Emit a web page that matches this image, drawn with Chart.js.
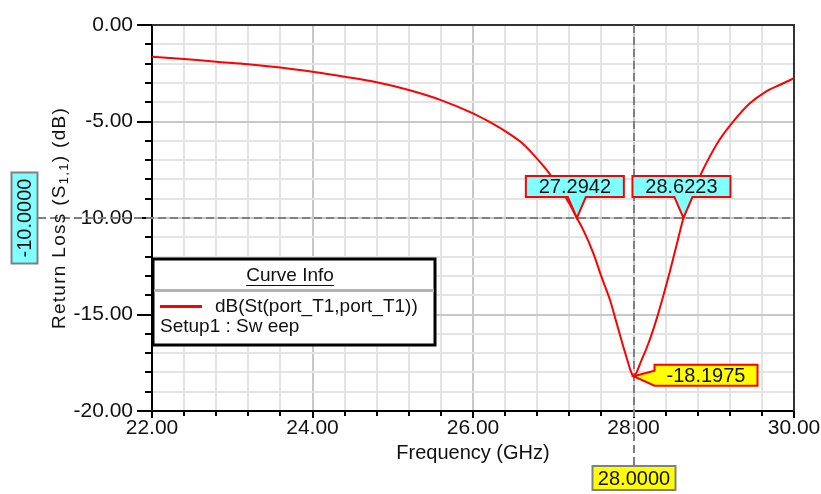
<!DOCTYPE html>
<html>
<head>
<meta charset="utf-8">
<script src="https://cdn.jsdelivr.net/npm/chart.js@4.4.1/dist/chart.umd.min.js"></script>
<style>
  html, body { margin: 0; padding: 0; background: #ffffff; }
  #wrap { width: 821px; height: 494px; }
</style>
</head>
<body>
<div id="wrap"><canvas id="plot" width="821" height="494"></canvas></div>
<script>
// Return loss sweep of the port (frequency in GHz, level in dB)
const freqGHz = [
  22.0, 22.4, 22.8, 23.2, 23.6, 24.0, 24.4, 24.8, 25.2, 25.6,
  26.0, 26.2, 26.4, 26.6, 26.75, 26.9, 27.0, 27.1, 27.2, 27.2942,
  27.375, 27.5, 27.6, 27.707, 27.791, 27.873, 27.935, 27.965, 28.0,
  28.1, 28.19, 28.29, 28.37, 28.455, 28.54, 28.6223, 28.7, 28.845,
  28.95, 29.07, 29.26, 29.45, 29.65, 29.82, 30.0
];
const returnLossDb = [
  -1.65, -1.76, -1.90, -2.03, -2.20, -2.42, -2.68, -2.97, -3.37, -3.89,
  -4.58, -5.01, -5.50, -6.08, -6.70, -7.42, -7.97, -8.57, -9.25, -10.0,
  -10.63, -11.83, -13.04, -14.25, -15.46, -16.67, -17.53, -17.92, -18.1975,
  -17.36, -16.45, -15.20, -14.05, -12.75, -11.35, -10.0, -9.05, -7.68,
  -6.82, -5.96, -4.92, -4.06, -3.45, -3.11, -2.76
];

// Axis ranges and tick spacing
const xRange = [22, 30];
const yRange = [-20, 0];
const xMinorStep = 0.4, xMajorStep = 2;
const yMinorStep = 1, yMajorStep = 5;

// Marker readouts
const refLevelDb = -10.0;
const crossFreqs = [27.2942, 28.6223];
const dipFreq = 28.0;
const dipLevelDb = -18.1975;

// Text
const xTitle = 'Frequency (GHz)';
const yTitleParts = ['Return Loss (S', '1,1', ') (dB)'];
const legendTitle = 'Curve Info';
const traceName = 'dB(St(port_T1,port_T1))';
const sweepName = 'Setup1 : Sw eep';

const FONT = "'Liberation Sans', Arial, sans-serif";
const INK = '#111111';
const CYAN = '#80ffff';
const YELLOW = '#ffff00';
const CLEAR = 'rgba(0,0,0,0)';

function isMajor(v, step) {
  const q = v / step;
  return Math.abs(q - Math.round(q)) < 1e-6;
}
function stepTicks(lo, hi, step) {
  const out = [];
  const n = Math.round((hi - lo) / step);
  for (let i = 0; i <= n; i++) out.push({ value: +(lo + i * step).toFixed(6) });
  return out;
}

function textBox(ctx, text, cx, cy, w, h, fill, stroke, rotate) {
  ctx.save();
  ctx.translate(cx, cy);
  if (rotate) ctx.rotate(-Math.PI / 2);
  ctx.fillStyle = fill;
  ctx.fillRect(-w / 2, -h / 2, w, h);
  ctx.lineWidth = 2;
  ctx.strokeStyle = stroke;
  ctx.strokeRect(-w / 2, -h / 2, w, h);
  ctx.fillStyle = INK;
  ctx.font = `20px ${FONT}`;
  ctx.textAlign = 'center';
  ctx.textBaseline = 'middle';
  ctx.fillText(text, 0, 1);
  ctx.restore();
}

// Flag above a point with a pointer down to it
function flagAbove(ctx, text, px, py) {
  const w = 98, h = 21, bx = px - 2, bottom = py - 21, top = bottom - h;
  const x0 = bx - w / 2, x1 = bx + w / 2;
  ctx.save();
  ctx.beginPath();
  ctx.moveTo(x0, top);
  ctx.lineTo(x1, top);
  ctx.lineTo(x1, bottom);
  ctx.lineTo(px + 9, bottom);
  ctx.lineTo(px, py);
  ctx.lineTo(px - 9, bottom);
  ctx.lineTo(x0, bottom);
  ctx.closePath();
  ctx.fillStyle = CYAN;
  ctx.fill();
  ctx.lineWidth = 2;
  ctx.strokeStyle = '#ff0000';
  ctx.lineJoin = 'miter';
  ctx.stroke();
  ctx.fillStyle = INK;
  ctx.font = `20px ${FONT}`;
  ctx.textAlign = 'center';
  ctx.textBaseline = 'middle';
  ctx.fillText(text, bx, (top + bottom) / 2 + 1);
  ctx.restore();
}

// Flag to the right of a point with a pointer back to it
function flagRight(ctx, text, px, py) {
  const w = 103, h = 21, x0 = px + 21, x1 = x0 + w;
  const top = py - 11.5, bottom = top + h;
  ctx.save();
  ctx.beginPath();
  ctx.moveTo(x0, top);
  ctx.lineTo(x1, top);
  ctx.lineTo(x1, bottom);
  ctx.lineTo(x0, bottom);
  ctx.lineTo(px, py);
  ctx.lineTo(x0, top + 6);
  ctx.closePath();
  ctx.fillStyle = YELLOW;
  ctx.fill();
  ctx.lineWidth = 2;
  ctx.strokeStyle = '#ff0000';
  ctx.stroke();
  ctx.fillStyle = INK;
  ctx.font = `20px ${FONT}`;
  ctx.textAlign = 'center';
  ctx.textBaseline = 'middle';
  ctx.fillText(text, (x0 + x1) / 2, (top + bottom) / 2 + 1);
  ctx.restore();
}

const plotDecor = {
  id: 'plotDecor',
  beforeDatasetsDraw(chart) {
    const { ctx, chartArea: a, scales: { x, y } } = chart;
    ctx.save();
    // frame on top and right
    ctx.strokeStyle = '#333333';
    ctx.lineWidth = 2;
    ctx.beginPath();
    ctx.moveTo(a.left, a.top);
    ctx.lineTo(a.right, a.top);
    ctx.lineTo(a.right, a.bottom);
    ctx.stroke();
    // tick marks outside the axes
    ctx.strokeStyle = '#000000';
    ctx.lineWidth = 2;
    ctx.beginPath();
    y.ticks.forEach(t => {
      const py = Math.round(y.getPixelForValue(t.value));
      const len = isMajor(t.value, yMajorStep) ? 15 : 7;
      ctx.moveTo(a.left - len, py);
      ctx.lineTo(a.left, py);
    });
    x.ticks.forEach(t => {
      const px = Math.round(x.getPixelForValue(t.value));
      const len = isMajor(t.value, xMajorStep) ? 7 : 5;
      ctx.moveTo(px, a.bottom);
      ctx.lineTo(px, a.bottom + len);
    });
    ctx.stroke();

    // dashed cursor lines
    const ry = Math.round(y.getPixelForValue(refLevelDb));
    const cx = Math.round(x.getPixelForValue(dipFreq));
    ctx.strokeStyle = '#808080';
    ctx.lineWidth = 2;
    ctx.setLineDash([8, 4]);
    ctx.beginPath();
    ctx.moveTo(38, ry);
    ctx.lineTo(a.right, ry);
    ctx.moveTo(cx, a.top);
    ctx.lineTo(cx, 466);
    ctx.stroke();
    ctx.setLineDash([]);

    // y axis title with subscript
    const big = `19px ${FONT}`, small = `13px ${FONT}`;
    ctx.letterSpacing = '1.3px';
    ctx.font = big; const w0 = ctx.measureText(yTitleParts[0]).width;
    ctx.font = small; const w1 = ctx.measureText(yTitleParts[1]).width;
    ctx.font = big; const w2 = ctx.measureText(yTitleParts[2]).width;
    const total = w0 + w1 + w2;
    ctx.translate(59, 218);
    ctx.rotate(-Math.PI / 2);
    ctx.fillStyle = INK;
    ctx.textBaseline = 'alphabetic';
    ctx.textAlign = 'left';
    let sx = -total / 2;
    ctx.font = big; ctx.fillText(yTitleParts[0], sx, 6); sx += w0;
    ctx.font = small; ctx.fillText(yTitleParts[1], sx, 9); sx += w1;
    ctx.font = big; ctx.fillText(yTitleParts[2], sx, 6);
    ctx.restore();

    // cursor readouts on the axes
    textBox(ctx, refLevelDb.toFixed(4), 24.5, ry, 91, 26, CYAN, '#808080', true);
    textBox(ctx, dipFreq.toFixed(4), cx, 478, 83, 24, YELLOW, '#808080', false);
  },
  afterDatasetsDraw(chart) {
    const { ctx, scales: { x, y } } = chart;
    const ry = y.getPixelForValue(refLevelDb);
    crossFreqs.forEach(f => flagAbove(ctx, f.toFixed(4), x.getPixelForValue(f), ry));
    flagRight(ctx, dipLevelDb.toFixed(4), x.getPixelForValue(dipFreq), y.getPixelForValue(dipLevelDb));

    // curve info box
    const L = 153, T = 259, R = 435, B = 345;
    ctx.save();
    ctx.fillStyle = '#ffffff';
    ctx.fillRect(L, T, R - L, B - T);
    ctx.strokeStyle = '#000000';
    ctx.lineWidth = 3;
    ctx.strokeRect(L, T, R - L, B - T);
    ctx.fillStyle = INK;
    ctx.font = `19px ${FONT}`;
    ctx.textBaseline = 'middle';
    ctx.textAlign = 'center';
    const tcx = 290;
    ctx.fillText(legendTitle, tcx, 276);
    const tw = ctx.measureText(legendTitle).width;
    ctx.lineWidth = 1;
    ctx.strokeStyle = INK;
    ctx.beginPath();
    ctx.moveTo(tcx - tw / 2, 285.5);
    ctx.lineTo(tcx + tw / 2, 285.5);
    ctx.stroke();
    ctx.strokeStyle = '#b4b4b4';
    ctx.lineWidth = 3;
    ctx.beginPath();
    ctx.moveTo(L + 1, 290.5);
    ctx.lineTo(R - 1, 290.5);
    ctx.stroke();
    ctx.strokeStyle = '#ff0000';
    ctx.lineWidth = 3;
    ctx.beginPath();
    ctx.moveTo(160, 306.5);
    ctx.lineTo(202, 306.5);
    ctx.stroke();
    ctx.textAlign = 'left';
    ctx.fillText(traceName, 215, 307);
    ctx.fillText(sweepName, 160, 327);
    ctx.restore();
  }
};

new Chart(document.getElementById('plot'), {
  type: 'line',
  data: {
    datasets: [{
      label: traceName,
      data: freqGHz.map((f, i) => ({ x: f, y: returnLossDb[i] })),
      borderColor: '#ff0000',
      borderWidth: 2,
      pointRadius: 0,
      cubicInterpolationMode: 'monotone',
      fill: false
    }]
  },
  options: {
    responsive: false,
    animation: false,
    events: [],
    layout: { autoPadding: false, padding: { left: 0, top: 25, right: 27, bottom: 0 } },
    plugins: { legend: { display: false }, tooltip: { enabled: false } },
    scales: {
      x: {
        type: 'linear',
        min: xRange[0], max: xRange[1],
        afterBuildTicks(s) { s.ticks = stepTicks(xRange[0], xRange[1], xMinorStep); },
        afterFit(s) { s.height = 83; },
        ticks: {
          autoSkip: false, maxRotation: 0, minRotation: 0,
          color: INK, font: { family: FONT, size: 21 }, padding: 0,
          callback: v => isMajor(v, xMajorStep) ? v.toFixed(2) : ''
        },
        grid: {
          drawTicks: true, tickLength: 5, tickColor: CLEAR, lineWidth: 2,
          color: c => (c.tick && isMajor(c.tick.value, xMajorStep)) ? '#c8c8c8' : '#e4e4e4'
        },
        border: { display: true, color: '#000000', width: 2 },
        title: {
          display: true, text: xTitle, color: INK,
          font: { family: FONT, size: 20 }, padding: { top: 0, bottom: 29 }
        }
      },
      y: {
        type: 'linear',
        min: yRange[0], max: yRange[1],
        afterBuildTicks(s) { s.ticks = stepTicks(yRange[0], yRange[1], yMinorStep); },
        afterFit(s) { s.width = 152; },
        ticks: {
          autoSkip: false,
          color: INK, font: { family: FONT, size: 21 }, padding: 0,
          callback: v => isMajor(v, yMajorStep) ? v.toFixed(2) : ''
        },
        grid: {
          drawTicks: true, tickLength: 19, tickColor: CLEAR, lineWidth: 2,
          color: c => (c.tick && isMajor(c.tick.value, yMajorStep)) ? '#c8c8c8' : '#e4e4e4'
        },
        border: { display: true, color: '#000000', width: 2 }
      }
    }
  },
  plugins: [plotDecor]
});
</script>
</body>
</html>
